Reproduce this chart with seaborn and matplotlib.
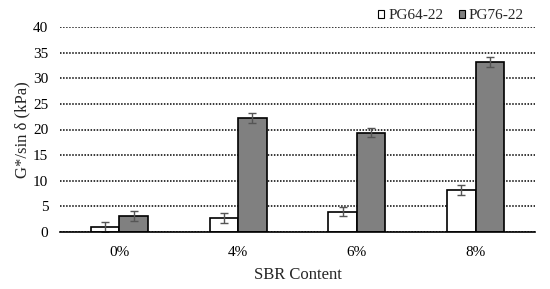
import matplotlib
matplotlib.use("Agg")
import matplotlib.pyplot as plt
import seaborn as sns
import pandas as pd
import numpy as np

categories = ["0%", "4%", "6%", "8%"]
series = ["PG64-22", "PG76-22"]
pg64 = [1.0, 2.7, 4.0, 8.2]
pg76 = [3.1, 22.2, 19.4, 33.2]
err64 = [1.0, 1.0, 0.9, 1.0]
err76 = [1.0, 1.0, 0.9, 1.0]

sns.set_style("white")
plt.rcParams['font.family'] = ['Liberation Serif', 'DejaVu Serif']

df = pd.DataFrame({
    "SBR": categories * 2,
    "Binder": [series[0]] * 4 + [series[1]] * 4,
    "Value": pg64 + pg76,
})

fig = plt.figure(figsize=(5.5, 2.89), dpi=100)
ax = fig.add_axes([60/550, 1 - 232/289, 475/550, 205/289])

sns.barplot(data=df, x="SBR", y="Value", hue="Binder", order=categories,
            hue_order=series, palette=["white", "#808080"], width=0.48,
            edgecolor="black", linewidth=1.2, errorbar=None, ax=ax, zorder=3)

errs = {series[0]: err64, series[1]: err76}
vals = {series[0]: pg64, series[1]: pg76}
for cont, s in zip(ax.containers, series):
    for bar, v, e in zip(cont, vals[s], errs[s]):
        xc = bar.get_x() + bar.get_width() / 2
        ax.errorbar(xc, v, yerr=e, fmt="none", ecolor="#555555",
                    elinewidth=1.0, capsize=3, capthick=1.0, zorder=4)

ax.set_ylim(0, 40)
ax.set_xlim(-0.5, 3.5)
ax.set_yticks(np.arange(0, 41, 5))
ax.yaxis.grid(True, linestyle=(0, (1, 1)), color="black", linewidth=1.1, zorder=0)
ax.set_axisbelow(True)
for sp in ["top", "right", "left"]:
    ax.spines[sp].set_visible(False)
ax.spines["bottom"].set_color("black")
ax.spines["bottom"].set_linewidth(1.2)
ax.spines["bottom"].set_zorder(5)
ax.tick_params(axis="both", length=0, labelsize=11, colors="black")
ax.tick_params(axis="y", pad=8.5)
ax.tick_params(axis="x", pad=10)
ax.set_xlabel("SBR Content", fontsize=12, labelpad=6)
ax.set_ylabel("G*/sin δ (kPa)", fontsize=12, labelpad=2)

leg = ax.legend(loc="center right", bbox_to_anchor=(0.977, 1.054), ncol=2, frameon=False,
                fontsize=11, handlelength=0.42, handleheight=0.5, handletextpad=0.25,
                columnspacing=1.0, borderaxespad=0, borderpad=0)
for h in leg.legend_handles:
    h.set_edgecolor("black")
    h.set_linewidth(0.8)

fig.savefig("out.png", dpi=100)
